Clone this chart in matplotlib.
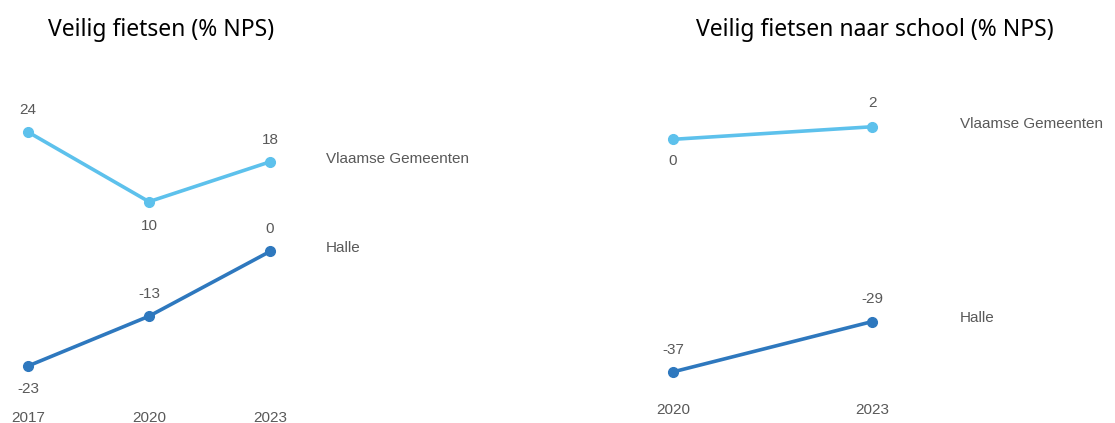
import matplotlib
matplotlib.use('Agg')
import matplotlib.pyplot as plt

# data: % NPS per year
years_left = [2017, 2020, 2023]
vlaams_left = [24, 10, 18]
halle_left = [-23, -13, 0]

years_right = [2020, 2023]
vlaams_right = [0, 2]
halle_right = [-37, -29]

light = '#5DC1EC'
dark = '#2E78BE'
grey = '#595959'
fs = 11

W, H = 1115, 423
fig = plt.figure(figsize=(W / 100, H / 100), dpi=100)
plt.rcParams['font.family'] = ['Liberation Sans', 'DejaVu Sans']


def px_axes(x0, x1, y0, y1):
    # axes placed in pixel coordinates (y from top)
    return fig.add_axes([x0 / W, 1 - y1 / H, (x1 - x0) / W, (y1 - y0) / H])


def style(ax, years, xlim, ylim):
    ax.set_xlim(*xlim)
    ax.set_ylim(*ylim)
    for s in ax.spines.values():
        s.set_visible(False)
    ax.set_yticks([])
    ax.set_xticks(years)
    ax.set_xticklabels([str(y) for y in years])
    ax.tick_params(axis='x', length=0, labelsize=fs, labelcolor=grey, pad=4)
    ax.patch.set_alpha(0)


def label(ax, x, y, txt, dy):
    ax.annotate(txt, (x, y), xytext=(0, dy), textcoords='offset pixels',
                ha='center', va='center', fontsize=fs, color=grey)


# left panel
axl = px_axes(0, 480, 90, 405)
style(axl, years_left, (2016.306, 2028.21), (-30.83, 32.43))
axl.plot(years_left, vlaams_left, color=light, lw=2.6, marker='o', ms=7)
axl.plot(years_left, halle_left, color=dark, lw=2.6, marker='o', ms=7)
offs_v = [22, -24, 22]
offs_h = [-23, 22, 22]
for x, y, d in zip(years_left, vlaams_left, offs_v):
    label(axl, x, y, str(y), d)
for x, y, d in zip(years_left, halle_left, offs_h):
    label(axl, x, y, str(y), d)
axl.annotate('Vlaamse Gemeenten', (years_left[-1], vlaams_left[-1]), xytext=(56, 3),
             textcoords='offset pixels', ha='left', va='center', fontsize=fs, color=grey)
axl.annotate('Halle', (years_left[-1], halle_left[-1]), xytext=(56, 3),
             textcoords='offset pixels', ha='left', va='center', fontsize=fs, color=grey)

# right panel
axr = px_axes(620, 1115, 80, 397)
style(axr, years_right, (2019.2, 2026.66), (-41.0, 9.44))
axr.plot(years_right, vlaams_right, color=light, lw=2.6, marker='o', ms=7)
axr.plot(years_right, halle_right, color=dark, lw=2.6, marker='o', ms=7)
offs_v = [-22, 24]
offs_h = [22, 23]
for x, y, d in zip(years_right, vlaams_right, offs_v):
    label(axr, x, y, str(y), d)
for x, y, d in zip(years_right, halle_right, offs_h):
    label(axr, x, y, str(y), d)
axr.annotate('Vlaamse Gemeenten', (years_right[-1], vlaams_right[-1]), xytext=(88, 3),
             textcoords='offset pixels', ha='left', va='center', fontsize=fs, color=grey)
axr.annotate('Halle', (years_right[-1], halle_right[-1]), xytext=(88, 4),
             textcoords='offset pixels', ha='left', va='center', fontsize=fs, color=grey)

# titles
tfont = ['Noto Sans', 'DejaVu Sans']
fig.text(161 / W, 1 - 30 / H, 'Veilig fietsen (% NPS)', ha='center', va='center',
         fontsize=16.5, color='black', family=tfont)
fig.text(875 / W, 1 - 30 / H, 'Veilig fietsen naar school (% NPS)', ha='center', va='center',
         fontsize=16.5, color='black', family=tfont)

fig.savefig('out.png', dpi=100)
